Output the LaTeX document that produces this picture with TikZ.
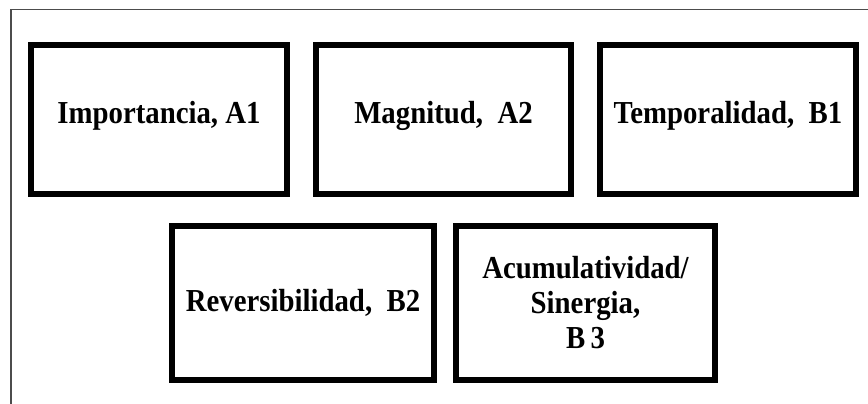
\documentclass[tikz,border=0pt]{standalone}
\usepackage{fontspec}
\setmainfont[FakeStretch=0.9]{Liberation Serif}
\tikzset{
    factor/.style={draw=black, line width=6pt, minimum width=256pt, minimum height=149pt,
        inner sep=0pt, align=center, font=\fontsize{32}{35}\selectfont\bfseries},
    upper/.style={text height=23pt, text depth=15.5pt}
}
\begin{document}
\begin{tikzpicture}[x=1pt, y=1pt]
            \useasboundingbox (0, 0) rectangle (868, 404);

            % Frame (only top and left edges visible)
            \coordinate (fb) at (11, 0);
            \coordinate (fc) at (11, 394.5);
            \coordinate (fr) at (868, 394.5);
            \draw[black!70, line width=1.2pt] (fb) -- (fc) -- (fr);

            % Upper row
            \node[factor, upper] (imp) at (159, 284.5) {Importancia, A1};
            \node[factor, upper, minimum width=255pt] (mag) at (443.5, 284.5) {Magnitud,\ \ A2};
            \node[factor, upper] (tem) at (728, 284.5) {Temporalidad,\ \ B1};

            % Lower row
            \node[factor, minimum width=262pt, minimum height=154pt] (rev) at (303, 101) {Reversibilidad,\ \ B2};
            \node[factor, minimum width=259pt, minimum height=154pt] (acu) at (585.5, 101)
            {Acumulatividad/\\Sinergia,\\B\,3};
        \end{tikzpicture}
\end{document}
